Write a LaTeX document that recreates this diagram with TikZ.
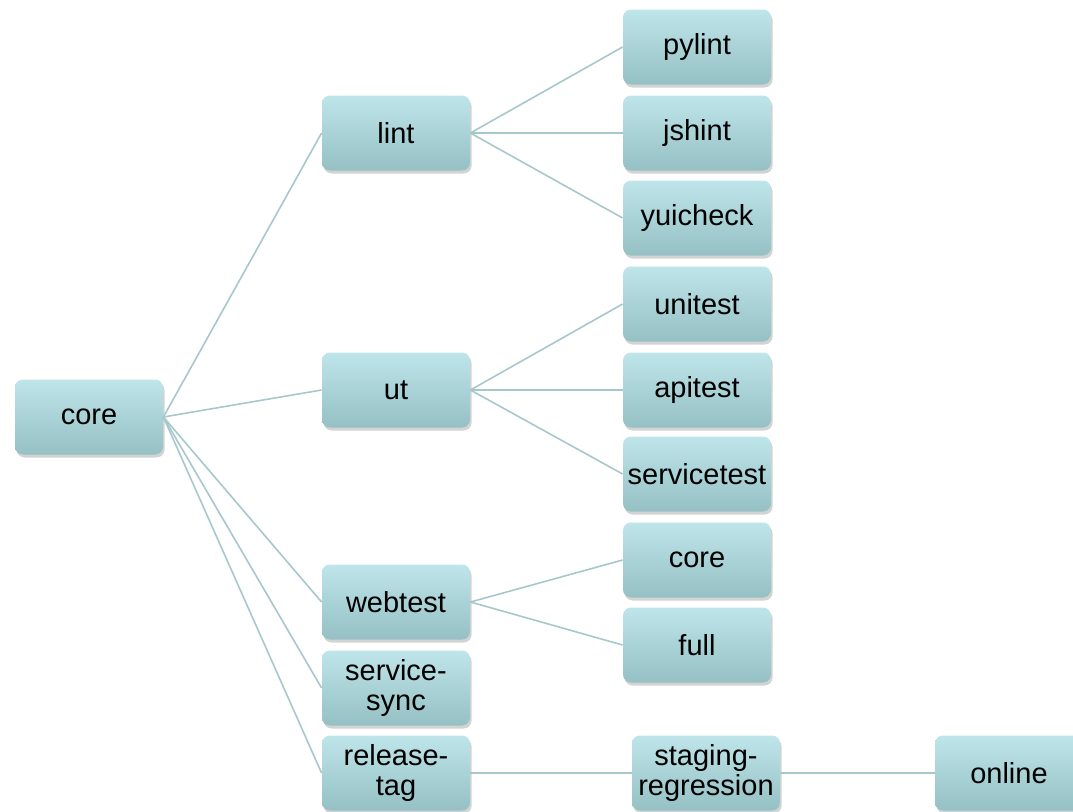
\documentclass[tikz,border=0pt]{standalone}
\usepackage{fontspec}
\setmainfont{Liberation Sans}
\usepackage{tikz}
\usetikzlibrary{positioning,shadows}

\definecolor{boxtop}{HTML}{BEE5EA}
\definecolor{boxbot}{HTML}{95C0C4}
\definecolor{linkcol}{HTML}{A6C8CB}

\tikzset{
  task/.style={rounded corners=4pt, minimum width=74pt, minimum height=37.5pt,
    top color=boxtop, bottom color=boxbot, align=center, inner sep=1pt,
    font=\fontsize{14.5}{15}\selectfont,
    drop shadow={opacity=0.35, shadow xshift=0.8pt, shadow yshift=-1.5pt}},
  link/.style={linkcol, line width=0.8pt}
}

\begin{document}
\begin{tikzpicture}[x=0.5pt,y=-0.5pt]
    \useasboundingbox (0,0) rectangle (1073,811);

    \node[task] (core) at (89,417) {core};

    \node[task] (lint) at (396,133) {lint};
    \node[task] (ut) at (396,390) {ut};
    \node[task] (webtest) at (396,602) {webtest};
    \node[task] (ssync) at (396,688) {service-\\sync};
    \node[task] (rtag) at (396,773) {release-\\tag};

    \node[task] (pylint) at (697,47) {pylint};
    \node[task] (jshint) at (697,133) {jshint};
    \node[task] (yuicheck) at (697,218) {yuicheck};
    \node[task] (unitest) at (697,304) {unitest};
    \node[task] (apitest) at (697,390) {apitest};
    \node[task] (servicetest) at (697,474) {servicetest};
    \node[task] (wcore) at (697,560) {core};
    \node[task] (wfull) at (697,645) {full};

    \node[task] (staging) at (706,773) {staging-\\regression};
    \node[task] (online) at (1009,773) {online};

    % first level
    \foreach \n in {lint,ut,webtest,ssync,rtag}
      \draw[link] (core.east) -- (\n.west);

    % second level
    \foreach \n in {pylint,jshint,yuicheck}
      \draw[link] (lint.east) -- (\n.west);
    \foreach \n in {unitest,apitest,servicetest}
      \draw[link] (ut.east) -- (\n.west);
    \foreach \n in {wcore,wfull}
      \draw[link] (webtest.east) -- (\n.west);

    % release chain
    \draw[link] (rtag.east) -- (staging.west);
    \draw[link] (staging.east) -- (online.west);
\end{tikzpicture}
\end{document}
